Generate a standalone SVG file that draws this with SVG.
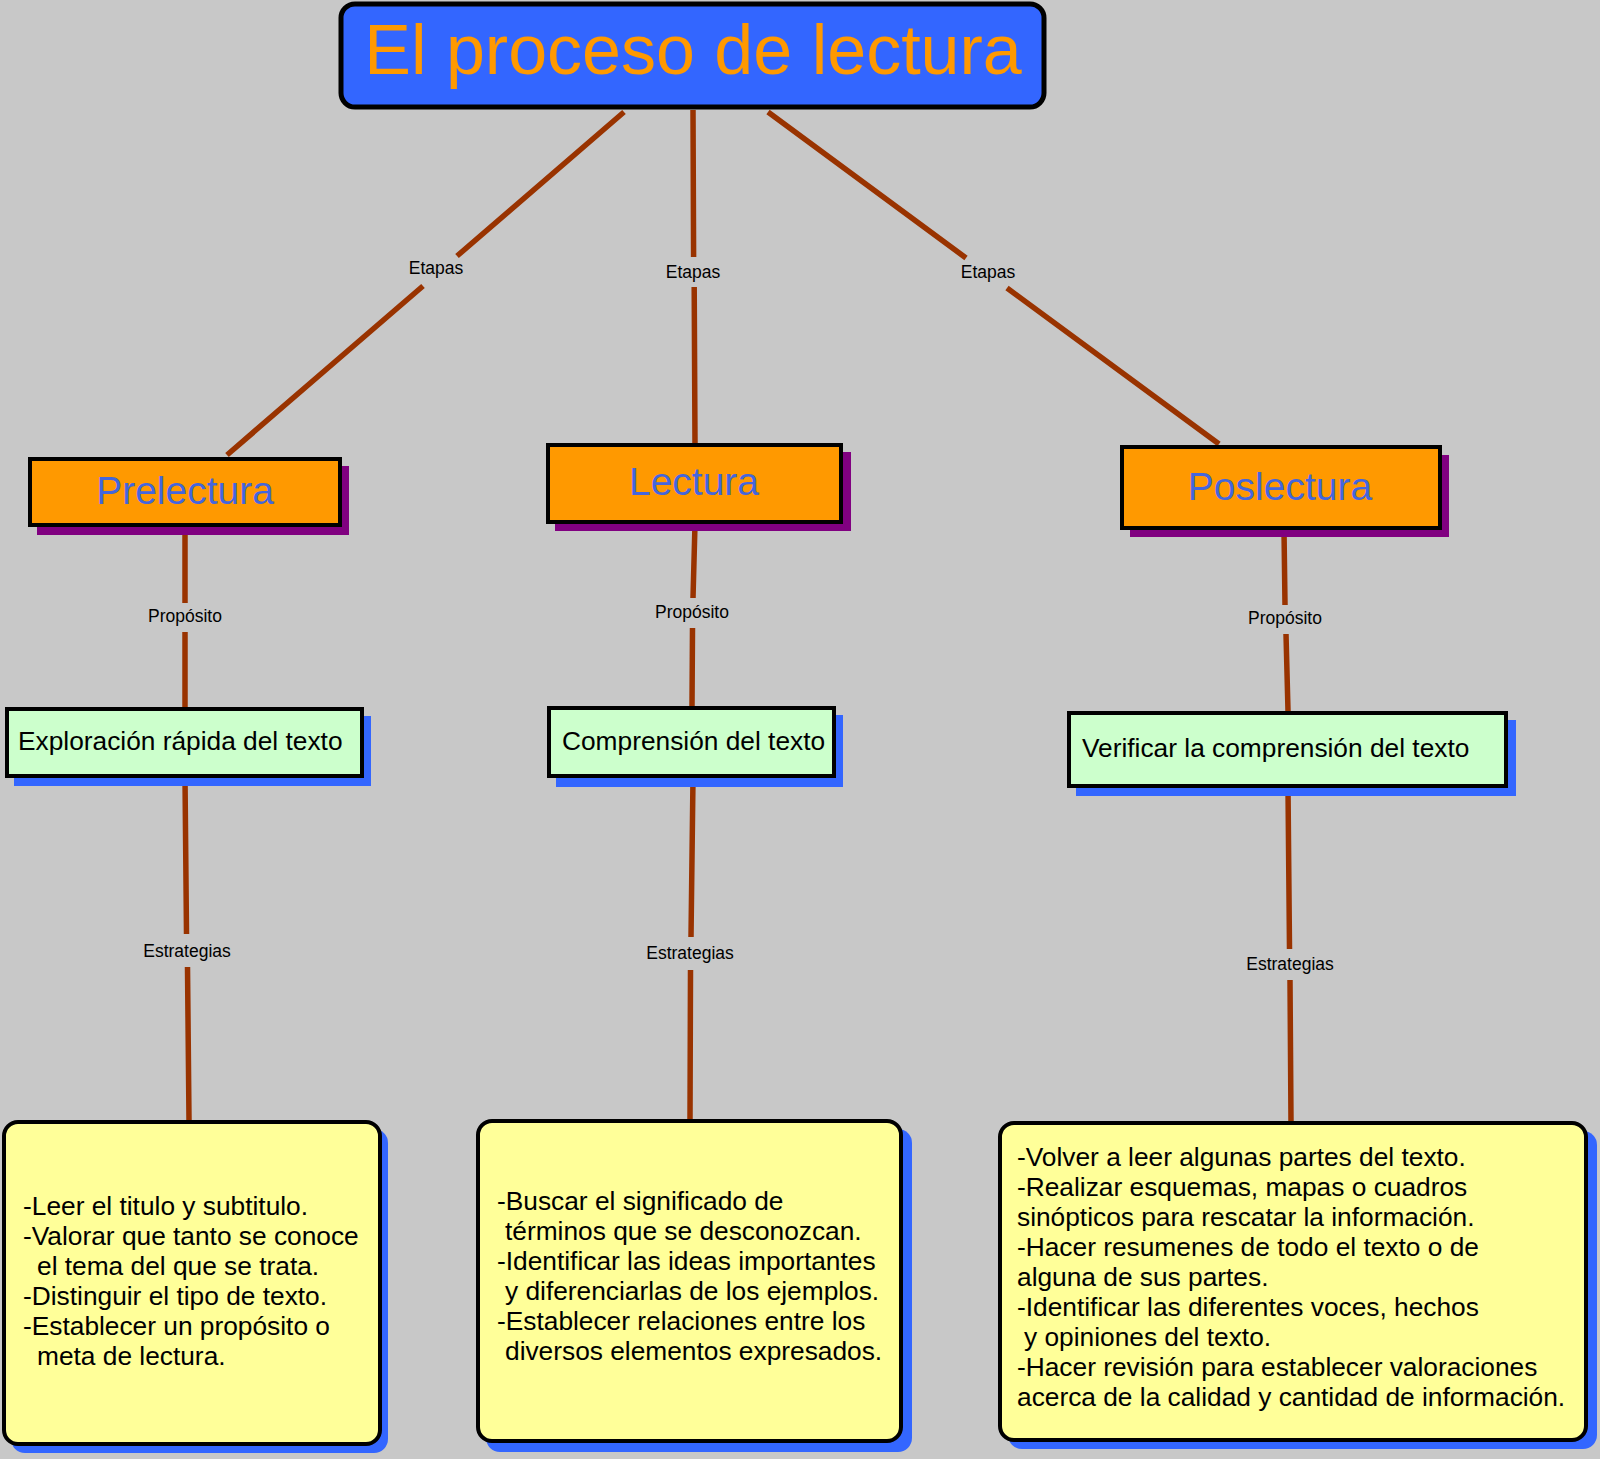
<svg xmlns="http://www.w3.org/2000/svg" width="1600" height="1459" viewBox="0 0 1600 1459">
<style>
.bg{fill:#C8C8C8}
.edge{stroke:#993300;stroke-width:5.5;fill:none}
.lbl{font-family:"Liberation Sans",Arial,sans-serif;font-size:17.5px;fill:#000;text-anchor:middle}
.title{fill:#3366FF;stroke:#000;stroke-width:5}
.titletxt{font-family:"Liberation Sans",Arial,sans-serif;font-size:70px;fill:#FF9900;text-anchor:middle}
.stage{fill:#FF9900;stroke:#000;stroke-width:4}
.stagesh{fill:#800080}
.stagetxt{font-family:"Liberation Sans",Arial,sans-serif;font-size:39px;fill:#4466DD;text-anchor:middle}
.purp{fill:#CCFFCC;stroke:#000;stroke-width:4}
.blsh{fill:#3366FF}
.txt26{font-family:"Liberation Sans",Arial,sans-serif;font-size:26.3px;fill:#000}
.strat{fill:#FFFF99;stroke:#000;stroke-width:4}
</style>
<rect class="bg" x="0" y="0" width="1600" height="1459"/>

<g id="connectors">
  <path class="edge" d="M624,112 L457,256 M423,286 L227,455"/>
  <path class="edge" d="M693,110 L693.6,257 M694.2,287 L695,444"/>
  <path class="edge" d="M768,112 L966,258 M1007,288 L1219,444"/>
  <path class="edge" d="M185,527 L185,603 M185,632 L185,707"/>
  <path class="edge" d="M695,524 L693,598 M692.5,628 L692,706"/>
  <path class="edge" d="M1284,530 L1285,605 M1286,634 L1288,711"/>
  <path class="edge" d="M185,778 L186.5,934 M187.5,967 L189,1120"/>
  <path class="edge" d="M693,778 L691,937 M690.5,970 L690,1119"/>
  <path class="edge" d="M1288,788 L1289.5,949 M1290,980 L1291,1121"/>
  <text class="lbl" x="436" y="274">Etapas</text>
  <text class="lbl" x="693" y="278">Etapas</text>
  <text class="lbl" x="988" y="278">Etapas</text>
  <text class="lbl" x="185" y="622">Propósito</text>
  <text class="lbl" x="692" y="618">Propósito</text>
  <text class="lbl" x="1285" y="624">Propósito</text>
  <text class="lbl" x="187" y="957">Estrategias</text>
  <text class="lbl" x="690" y="959">Estrategias</text>
  <text class="lbl" x="1290" y="970">Estrategias</text>
</g>

<g id="n-title">
  <rect class="title" x="341" y="4" width="703" height="103" rx="14"/>
  <text class="titletxt" x="693" y="74">El proceso de lectura</text>
</g>

<g id="n-prelectura">
  <rect class="stagesh" x="37" y="466" width="312" height="69"/>
  <rect class="stage" x="30" y="459" width="310" height="66"/>
  <text class="stagetxt" x="185" y="504">Prelectura</text>
</g>
<g id="n-lectura">
  <rect class="stagesh" x="555" y="452" width="296" height="79"/>
  <rect class="stage" x="548" y="445" width="293" height="77"/>
  <text class="stagetxt" x="694" y="495">Lectura</text>
</g>
<g id="n-poslectura">
  <rect class="stagesh" x="1130" y="455" width="319" height="82"/>
  <rect class="stage" x="1122" y="447" width="318" height="81"/>
  <text class="stagetxt" x="1280" y="500">Poslectura</text>
</g>

<g id="n-exploracion">
  <rect class="blsh" x="14" y="716" width="357" height="70"/>
  <rect class="purp" x="7" y="709" width="355" height="67"/>
  <text class="txt26" x="18" y="750">Exploración rápida del texto</text>
</g>
<g id="n-comprension">
  <rect class="blsh" x="556" y="715" width="287" height="72"/>
  <rect class="purp" x="549" y="708" width="285" height="68"/>
  <text class="txt26" x="562" y="750">Comprensión del texto</text>
</g>
<g id="n-verificar">
  <rect class="blsh" x="1076" y="720" width="440" height="76"/>
  <rect class="purp" x="1069" y="713" width="437" height="73"/>
  <text class="txt26" x="1082" y="757">Verificar la comprensión del texto</text>
</g>

<g id="n-estr-pre">
  <rect class="blsh" x="11" y="1129" width="377" height="324" rx="14"/>
  <rect class="strat" x="4" y="1122" width="376" height="322" rx="14"/>
  <text class="txt26">
    <tspan x="23" y="1215">-Leer el titulo y subtitulo.</tspan>
    <tspan x="23" y="1245">-Valorar que tanto se conoce</tspan>
    <tspan x="37" y="1275">el tema del que se trata.</tspan>
    <tspan x="23" y="1305">-Distinguir el tipo de texto.</tspan>
    <tspan x="23" y="1335">-Establecer un propósito o</tspan>
    <tspan x="37" y="1365">meta de lectura.</tspan>
  </text>
</g>
<g id="n-estr-lec">
  <rect class="blsh" x="486" y="1129" width="426" height="323" rx="14"/>
  <rect class="strat" x="478" y="1121" width="423" height="320" rx="14"/>
  <text class="txt26">
    <tspan x="497" y="1210">-Buscar el significado de</tspan>
    <tspan x="505" y="1240">términos que se desconozcan.</tspan>
    <tspan x="497" y="1270">-Identificar las ideas importantes</tspan>
    <tspan x="505" y="1300">y diferenciarlas de los ejemplos.</tspan>
    <tspan x="497" y="1330">-Establecer relaciones entre los</tspan>
    <tspan x="505" y="1360">diversos elementos expresados.</tspan>
  </text>
</g>
<g id="n-estr-pos">
  <rect class="blsh" x="1008" y="1131" width="589" height="318" rx="14"/>
  <rect class="strat" x="1000" y="1123" width="586" height="317" rx="14"/>
  <text class="txt26">
    <tspan x="1017" y="1166">-Volver a leer algunas partes del texto.</tspan>
    <tspan x="1017" y="1196">-Realizar esquemas, mapas o cuadros</tspan>
    <tspan x="1017" y="1226">sinópticos para rescatar la información.</tspan>
    <tspan x="1017" y="1256">-Hacer resumenes de todo el texto o de</tspan>
    <tspan x="1017" y="1286">alguna de sus partes.</tspan>
    <tspan x="1017" y="1316">-Identificar las diferentes voces, hechos</tspan>
    <tspan x="1024" y="1346">y opiniones del texto.</tspan>
    <tspan x="1017" y="1376">-Hacer revisión para establecer valoraciones</tspan>
    <tspan x="1017" y="1406">acerca de la calidad y cantidad de información.</tspan>
  </text>
</g>
</svg>
